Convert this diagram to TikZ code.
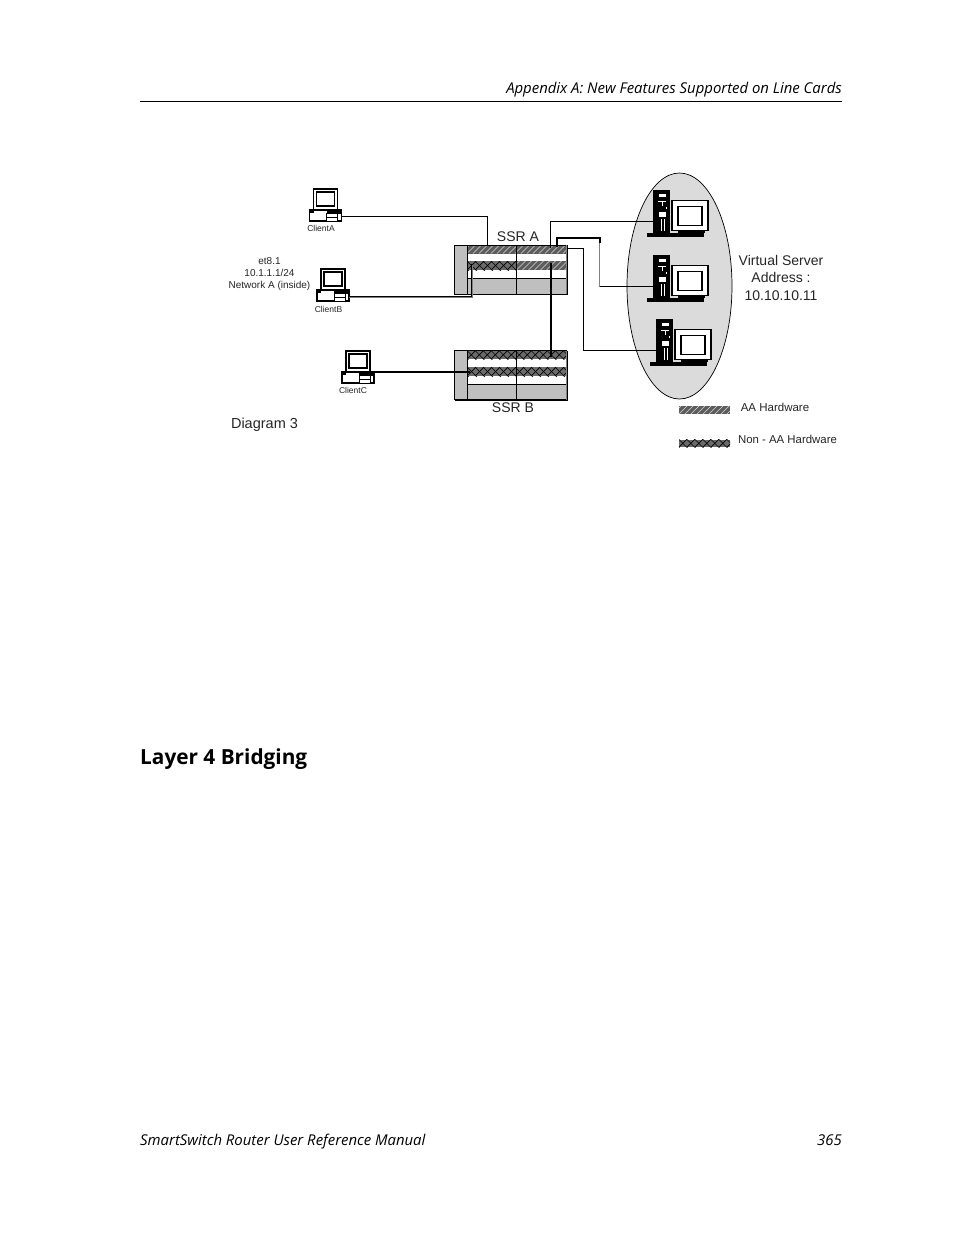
\documentclass[tikz,border=0pt]{standalone}
\usepackage{fontspec}
\setmainfont{Open Sans}
\newfontfamily\diag{Liberation Sans}
\usetikzlibrary{shapes.geometric}
\definecolor{chgray}{gray}{0.75}
\definecolor{elgray}{gray}{0.86}
\definecolor{hwdark}{gray}{0.36}
\definecolor{hwcross}{gray}{0.42}
\tikzset{
  wire/.style={draw=black,line width=1pt},
  wirethick/.style={draw=black,line width=2pt},
  wireshadow/.style={draw=gray,line width=1pt},
  lab/.style={font=\diag,inner sep=0pt,text=black!85,align=center},
  tiny/.style={lab,font=\diag\fontsize{8.5}{10.5}\selectfont},
  mid/.style={lab,font=\diag\fontsize{14}{17.5}\selectfont},
  big/.style={lab,font=\diag\fontsize{14}{17.5}\selectfont},
  page/.style={inner sep=0pt,font=\itshape\fontsize{14.9}{18}\selectfont},
  pics/clientpc/.style={code={
    \draw[black,fill=white,line width=1.1pt] (-10,-21) rectangle (14,0);
    \draw[black,line width=1.2pt] (-7,-18) rectangle (11,-4);
    \fill[black] (-10,-1) rectangle (14,1);
    \draw[black,fill=white,line width=1.1pt] (-14,0) rectangle (18,11);
    \fill[black] (-14,0) rectangle (-10,3);
    \fill[black] (3,1) rectangle (18,4);
    \draw[black,fill=white,line width=.9pt] (3,3) rectangle (14,11);
    \draw[black,line width=.9pt] (3,7) -- (14,7);
    \coordinate (-e) at (18,6.5);
  }},
  pics/serverbox/.style={code={
    \fill[black] (0,0) rectangle (17,43);
    \fill[black] (-6,43) rectangle (51,47);
    \fill[white] (6,4) rectangle (13,7);
    \fill[white] (5,11) rectangle (13,12);
    \fill[white] (9,12) rectangle (10,16);
    \fill[white] (13,17) rectangle (14,19);
    \fill[white] (6,22) rectangle (13,27);
    \fill[white] (8,29) rectangle (9,41);
    \fill[white] (11,29) rectangle (12,41);
    \draw[black,fill=white,line width=1.4pt] (19,11) rectangle (55,41);
    \fill[black] (25,41) rectangle (52,43);
    \draw[black,line width=1.8pt] (25,17) rectangle (49,36);
    \fill[black] (28,43) rectangle (50,47);
    \coordinate (-w) at (0,32);
  }},
}
\newcommand{\hwband}[5]{% x1 y1 x2 y2 kind
  \begin{scope}
    \clip (#1,#2) rectangle (#3,#4);
    \ifnum#5=1
      \fill[hwdark] (#1,#2) rectangle (#3,#4);
      \foreach \hx in {-12,-6,...,120}
        \draw[white!85!black,line width=.6pt] (#1+\hx,#4) -- ++(10,-10);
    \else
      \fill[hwcross] (#1,#2) rectangle (#3,#4);
      \foreach \hx in {-16,-8,...,120} {
        \draw[black,line width=.7pt] (#1+\hx,#4) -- ++(10,-10);
        \draw[black,line width=.7pt] (#1+\hx,#2) -- ++(10,10);
      }
    \fi
  \end{scope}}
\newcommand{\chassis}[2]{% name top
  \node[draw=black,line width=1pt,fill=white,minimum width=112pt,minimum height=49pt,inner sep=0pt,anchor=north west] (#1) at (454.5,#2) {};
  \fill[chgray] (454.5,#2) rectangle (467,#2+49);
  \fill[chgray] (467,#2+33.5) rectangle (566.5,#2+49);
}
\begin{document}
\begin{tikzpicture}[x=1pt,y=-1pt]
\useasboundingbox (0,0) rectangle (954,1235);
\fill[white] (0,0) rectangle (954,1235);
% page furniture
\node[page,anchor=base east] (hdr) at (842,93) {Appendix A: New Features Supported on Line Cards};
\coordinate (rl) at (140,101); \coordinate (rr) at (842,101);
\draw[black,line width=1pt] (rl) -- (rr);
\node[inner sep=0pt,anchor=base west,font=\bfseries\fontsize{20.8}{25}\selectfont] (sec) at (140,764) {Layer 4 Bridging};
\node[page,anchor=base west] (ftl) at (140,1145) {SmartSwitch Router User Reference Manual};
\node[page,anchor=base east] (ftr) at (842,1145) {365};
% ellipse
\node[draw=black,line width=.7pt,fill=elgray,ellipse,minimum width=105pt,minimum height=226pt,inner sep=0pt] (vs) at (679.5,286) {};
% SSR A
\chassis{ssra}{245}
\hwband{467}{245}{566.5}{253.5}{1}
\hwband{467}{261}{516.5}{270}{2}
\hwband{516.5}{261}{566.5}{270}{1}
\draw[black,line width=1pt] (467,245) -- (467,294) (516.5,245) -- (516.5,294) (467,278.5) -- (566.5,278.5);
\draw[black,line width=1pt] (566.5,245) -- (454.5,245) -- (454.5,294) -- (566.5,294);
\draw[gray,line width=1pt] (566.5,245) -- (566.5,294);
% SSR B
\chassis{ssrb}{350.5}
\hwband{467}{350.5}{566.5}{359}{2}
\hwband{467}{367}{566.5}{376}{2}
\draw[black,line width=1pt] (467,350.5) -- (467,399.5) (516.5,350.5) -- (516.5,399.5) (467,384) -- (566.5,384);
\draw[black,line width=1pt] (566.5,350.5) -- (454.5,350.5) -- (454.5,399.5) -- (566.5,399.5);
\draw[gray,line width=1pt] (566.5,350.5) -- (566.5,399.5);
% devices
\pic (ca) at (323.5,210) {clientpc};
\pic (cb) at (331,290) {clientpc};
\pic (cc) at (356,372) {clientpc};
\pic (s1) at (653,189.5) {serverbox};
\pic (s2) at (653,254.5) {serverbox};
\pic (s3) at (656,318.5) {serverbox};
% link anchors
\coordinate (a-top) at (487.5,245);
\coordinate (a-b) at (471.5,264);
\coordinate (a-bs) at (472.5,265);
\coordinate (a-l) at (551,263);
\coordinate (b-l) at (551,357);
\coordinate (a-1) at (550.5,248);
\coordinate (a-1c) at (550.5,221.5);
\coordinate (a-2) at (557,247);
\coordinate (a-2c) at (557,238);
\coordinate (r-2a) at (599.5,238);
\coordinate (r-2b) at (599.5,243);
\coordinate (r-2c) at (599.5,286.5);
\coordinate (a-3) at (567,248.5);
\coordinate (r-3a) at (583.5,248.5);
\coordinate (r-3b) at (583.5,350.5);
\coordinate (c-s) at (370,372);
\coordinate (c-b) at (470,372);
% connectors
\draw[wire] (ca-e) -| (a-top);
\draw[wireshadow] (cb-e) ++(0,1) -| (a-bs);
\draw[wire] (cb-e) -| (a-b);
\draw[wirethick] (c-s) -- (c-b);
\draw[wirethick] (a-l) -- (b-l);
\draw[wire] (a-1) -- (a-1c) -- (s1-w);
\draw[wirethick] (a-2) -- (a-2c) -- (r-2a) -- (r-2b);
\draw[wireshadow] (r-2b) -- (r-2c);
\draw[wire] (r-2c) -- (s2-w);
\draw[wire] (a-3) -- (r-3a) -- (r-3b) -- (s3-w);
% labels
\node[tiny] (la) at (321,228.5) {ClientA};
\node[tiny] (lb) at (328.5,309.5) {ClientB};
\node[tiny] (lc) at (353,390.5) {ClientC};
\node[tiny,font=\diag\fontsize{10}{12}\selectfont] (net) at (269.5,274) {et8.1\\10.1.1.1/24\\Network A (inside)};
\node[mid] (ssralab) at (518,236.5) {SSR A};
\node[mid] (ssrblab) at (513,407.5) {SSR B};
\node[big,font=\diag\fontsize{14.5}{17}\selectfont] (d3) at (264.5,424.5) {Diagram 3};
\node[big] (vsl) at (781,277.5) {Virtual Server\\Address :\\10.10.10.11};
% legend
\hwband{679}{406}{730}{414}{1}
\hwband{679}{439.5}{730}{447}{2}
\node[tiny,font=\diag\fontsize{11.5}{13}\selectfont] (l1) at (775,407) {AA Hardware};
\node[tiny,font=\diag\fontsize{11.4}{13}\selectfont] (l2) at (787.5,439) {Non - AA Hardware};
\end{tikzpicture}
\end{document}
